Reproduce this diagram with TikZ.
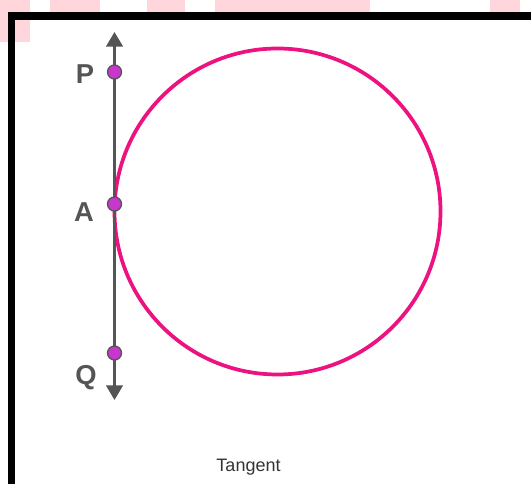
\documentclass[tikz,border=0pt]{standalone}
\usepackage{fontspec}
\setmainfont{Liberation Sans}
\usepackage{tikz}
\usetikzlibrary{arrows.meta, positioning}
\definecolor{tgpink}   {RGB}{236, 18,128}
\definecolor{tggray}   {RGB}{ 85, 85, 85}
\definecolor{dotfill}  {RGB}{200, 55,205}
\definecolor{wmpink}   {RGB}{255,214,220}

\tikzset{
	tangentline/.style={tggray, line width=1.9pt,
		{Triangle[length=11pt,width=12.5pt]}-{Triangle[length=11pt,width=12.5pt]}},
	dot/.style={circle, fill=dotfill, draw=tggray, line width=1pt,
		minimum size=10.5pt, inner sep=0pt},
	ptlabel/.style={text=tggray, inner sep=0pt, font=\bfseries\fontsize{20.5}{22}\selectfont},
	caption/.style={text=black!80, inner sep=0pt, font=\fontsize{13.5}{16}\selectfont}
}

\begin{document}
\begin{tikzpicture}[x=0.75pt,y=0.75pt]
	\useasboundingbox (0,0) rectangle (531,484);
	% watermark pieces at top
	\fill[wmpink] (0,442) rectangle (30,484);
	\foreach \a/\b in {50/100,147/185,215/370,490/520}
		\fill[wmpink] (\a,472) rectangle (\b,484);
	% frame
	\draw[line width=5.6pt] (11.5,0)--(11.5,468)--(531,468);
	% circle
	\draw[tgpink, line width=2.8pt] (277.5,272.5) circle (163);
	% tangent line
	\coordinate (top) at (114.5,452);
	\coordinate (bot) at (114.5,84);
	\draw[tangentline] (bot)--(top);
	\node[dot] (P) at (114.5,412) {};
	\node[dot] (A) at (114.5,280) {};
	\node[dot] (Q) at (114.5,131) {};
	\node[ptlabel] (lP) at (85,410) {P};
	\node[ptlabel] (lA) at (84,272) {A};
	\node[ptlabel] (lQ) at (86,106) {Q};
	\node[caption] (cap) at (248.5,17) {Tangent};
\end{tikzpicture}
\end{document}
